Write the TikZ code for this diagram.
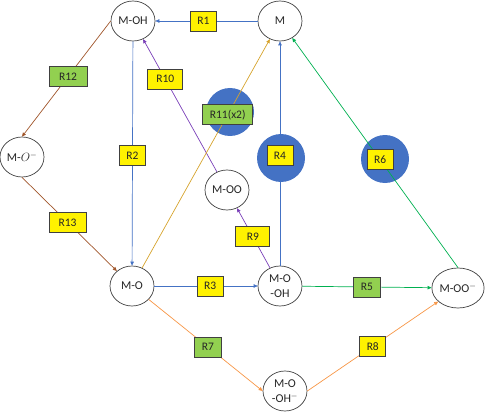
\documentclass[tikz,border=0pt]{standalone}
\usepackage{fontspec}
\setmainfont{Carlito}
\usetikzlibrary{shapes.geometric,arrows.meta}
\definecolor{cblue}{HTML}{4472C4}
\definecolor{cgreen}{HTML}{00B050}
\definecolor{corange}{HTML}{F79646}
\definecolor{cbrown}{HTML}{A0552A}
\definecolor{cpurple}{HTML}{7A3FB8}
\definecolor{cgold}{HTML}{D6A32C}
\definecolor{boxgreen}{HTML}{92D050}
\definecolor{edgegray}{HTML}{404040}

\begin{document}
\begin{tikzpicture}[x=1pt,y=-1pt,
    state/.style={draw=edgegray,line width=.7pt,ellipse,fill=white,minimum width=44pt,
                  minimum height=40pt,inner sep=0pt,align=center,text=black!85,
                  font=\fontsize{12}{15}\selectfont},
    ybox/.style={draw=edgegray,line width=.9pt,fill=yellow,minimum height=20pt,
                 inner xsep=7pt,text=black!85,font=\fontsize{11.5}{12}\selectfont},
    gbox/.style={ybox,fill=boxgreen},
    hl/.style={circle,fill=cblue,minimum size=48pt,inner sep=0pt},
    rxn/.style={line width=.7pt,-{Triangle[length=4pt,width=3.5pt]}}]
  \useasboundingbox (0,0) rectangle (485,412);

  % blue discs behind the labels
  \node[hl] (hl11) at (230,112) {};
  \node[hl] (hl4) at (281,158) {};
  \node[hl] (hl6) at (385,159) {};

  % species
  \node[state] (MOH) at (133,21) {M-OH};
  \node[state] (M) at (280,21) {M};
  \node[state] (MOm) at (22,157) {M-$O^{-}$};
  \node[state] (MOO) at (227,190) {M-OO};
  \node[state] (MO) at (132,286) {M-O};
  \node[state] (MOOH) at (280,286) {M-O\\-OH};
  \node[state] (MOOm) at (458,288) {M-OO$^{-}$};
  \node[state] (MOOHm) at (285,391) {M-O\\-OH$^{-}$};

  % reactions
  \draw[rxn,cblue] (M) -- node[ybox,pos=.53] {R1} (MOH);
  \draw[rxn,cblue] (MOH) -- node[ybox,pos=.51] {R2} (MO);
  \draw[rxn,cblue] (MO) -- node[ybox,pos=.54] {R3} (MOOH);
  \draw[rxn,cblue] (MOOH) -- node[ybox,pos=.49] {R4} (M);
  \draw[rxn,cgreen] (MOOH) -- node[gbox] {R5} (MOOm);
  \draw[rxn,cgreen] (MOOm.north) -- node[ybox,pos=.47] {R6} (M);
  \draw[rxn,corange] (MO) -- node[gbox,pos=.52] {R7} (MOOHm.west);
  \draw[rxn,corange] (MOOHm.east) -- node[ybox,pos=.5] {R8} (MOOm);
  \draw[rxn,cpurple] (MOOH) -- node[ybox,minimum width=34pt,pos=.52] {R9} (MOO);
  \draw[rxn,cpurple] (MOO) -- node[ybox,minimum width=35pt,pos=.7] {R10} (MOH);
  \draw[rxn,cgold] (MO) -- node[gbox,pos=.67] {R11(x2)} (M);
  \draw[rxn,cbrown] (MOH.west) -- node[gbox,minimum width=38pt,pos=.48] {R12} (MOm.north);
  \draw[rxn,cbrown] (MOm.south) -- node[ybox,minimum width=37pt,pos=.48] {R13} (MO);
\end{tikzpicture}
\end{document}
